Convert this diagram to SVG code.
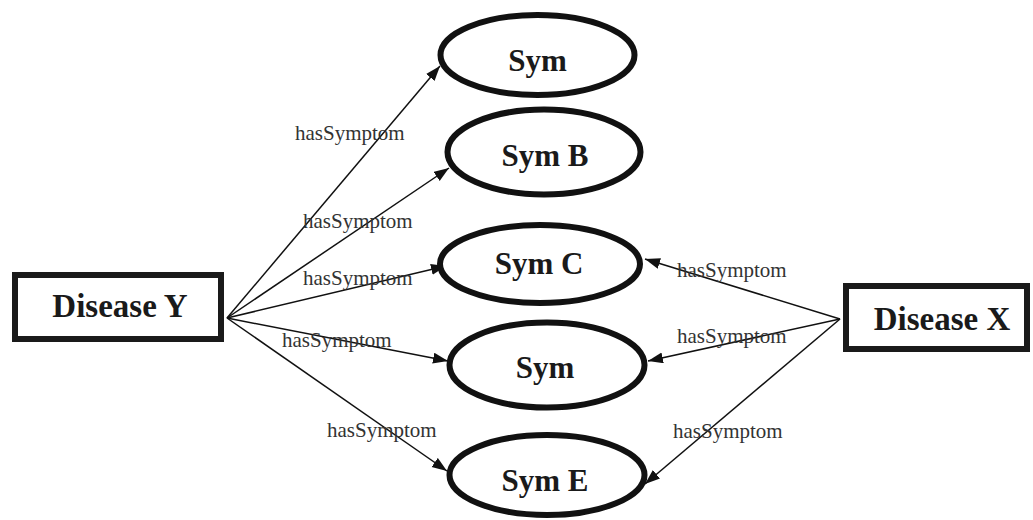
<svg xmlns="http://www.w3.org/2000/svg" width="1033" height="520" viewBox="0 0 1033 520">
<style>
.box{fill:#fff;stroke:#1a1a1a;stroke-width:6}
.ell{fill:#fff;stroke:#111;stroke-width:6}
.nt{font-family:"Liberation Serif",serif;font-weight:bold;fill:#1a1a1a;text-anchor:middle}
.lbl{font-family:"Liberation Serif",serif;font-size:21px;fill:#333}
.edge{stroke:#111;stroke-width:1.5;fill:none;marker-end:url(#ah)}
</style>
<defs>
<marker id="ah" markerUnits="userSpaceOnUse" markerWidth="16" markerHeight="12" refX="15" refY="5.5" orient="auto">
<path d="M0,0 L15,5.5 L0,11 z" fill="#111"/>
</marker>
</defs>
<rect width="1033" height="520" fill="#fff"/>
<g id="connectors">
<line class="edge" x1="227" y1="318" x2="440" y2="66"/>
<line class="edge" x1="227" y1="318" x2="449" y2="168"/>
<line class="edge" x1="227" y1="318" x2="446" y2="266"/>
<line class="edge" x1="227" y1="318" x2="448" y2="361"/>
<line class="edge" x1="227" y1="318" x2="447" y2="471"/>
<line class="edge" x1="840" y1="319" x2="645" y2="259"/>
<line class="edge" x1="840" y1="319" x2="648" y2="361"/>
<line class="edge" x1="840" y1="319" x2="645" y2="484"/>
</g>
<g id="labels">
<text class="lbl" x="295" y="140">hasSymptom</text>
<text class="lbl" x="303" y="228">hasSymptom</text>
<text class="lbl" x="303" y="285">hasSymptom</text>
<text class="lbl" x="282" y="347">hasSymptom</text>
<text class="lbl" x="327" y="437">hasSymptom</text>
<text class="lbl" x="677" y="277">hasSymptom</text>
<text class="lbl" x="677" y="343">hasSymptom</text>
<text class="lbl" x="673" y="438">hasSymptom</text>
</g>
<g id="diseaseY">
<rect class="box" x="15" y="275" width="206" height="64"/>
<text class="nt" x="120" y="317" font-size="33">Disease Y</text>
</g>
<g id="diseaseX">
<rect class="box" x="846" y="286" width="181" height="63"/>
<text class="nt" x="942" y="330" font-size="33">Disease X</text>
</g>
<g id="symA">
<ellipse class="ell" cx="537.5" cy="55" rx="97" ry="40"/>
<text class="nt" x="537.5" y="71" font-size="31">Sym</text>
</g>
<g id="symB">
<ellipse class="ell" cx="544" cy="152" rx="96.5" ry="42.5"/>
<text class="nt" x="545" y="166" font-size="31">Sym B</text>
</g>
<g id="symC">
<ellipse class="ell" cx="540" cy="264" rx="100" ry="39"/>
<text class="nt" x="539" y="274" font-size="31">Sym C</text>
</g>
<g id="symD">
<ellipse class="ell" cx="547" cy="365" rx="97.5" ry="42.5"/>
<text class="nt" x="545" y="378" font-size="31">Sym</text>
</g>
<g id="symE">
<ellipse class="ell" cx="547" cy="475" rx="97.5" ry="40"/>
<text class="nt" x="545" y="491" font-size="31">Sym E</text>
</g>
</svg>
